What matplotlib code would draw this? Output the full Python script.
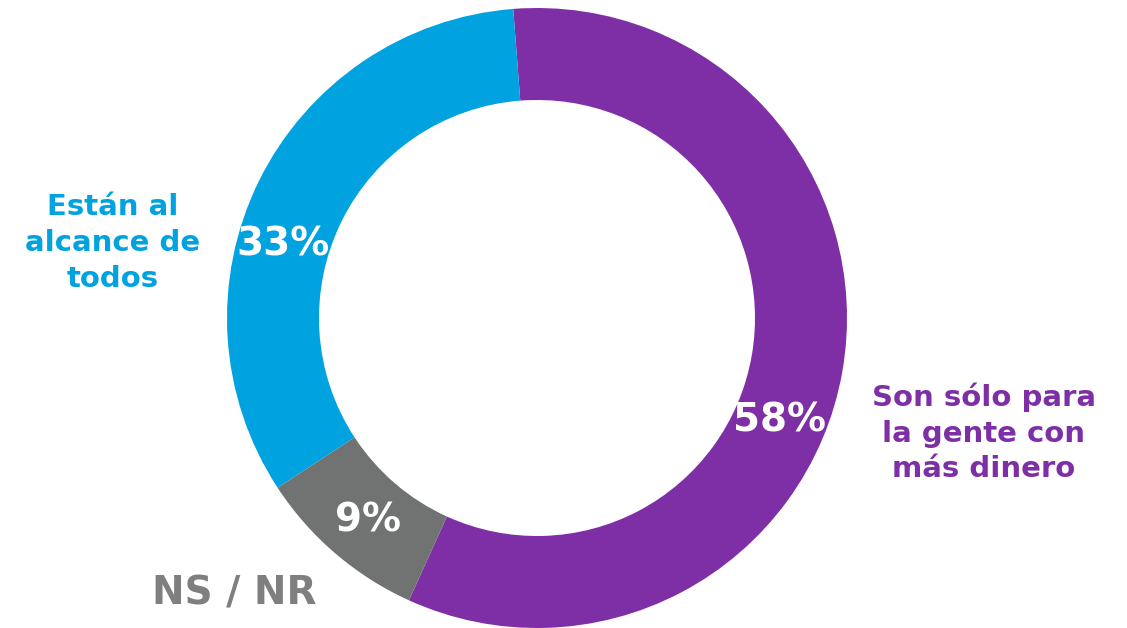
import matplotlib
matplotlib.use("Agg")
import matplotlib.pyplot as plt

# Data
categories = ["Son sólo para\nla gente con\nmás dinero", "NS / NR", "Están al\nalcance de\ntodos"]
values = [58, 9, 33]
pct_labels = ["58%", "9%", "33%"]
colors = ["#7F2FA5", "#707372", "#00A3E0"]
label_colors = ["#7F2FA5", "#7F7F7F", "#00A3E0"]

W, H = 1127, 628
CX, CY, R = 537, 310, 310
RING = 92

plt.rcParams['font.family'] = ['DejaVu Sans']


def draw_chart():
    '''Draw the donut chart and save it.'''
    fig = plt.figure(figsize=(W / 100, H / 100), dpi=100)
    ax = fig.add_axes([0, 0, 1, 1])

    ax.pie(values, colors=colors, startangle=94.4, counterclock=False,
           radius=R, center=(CX, CY),
           wedgeprops=dict(width=RING, linewidth=0))

    # pie resets limits, so set them afterwards
    ax.set_xlim(0, W)
    ax.set_ylim(0, H)
    ax.set_aspect('equal')
    ax.axis('off')

    # percentage labels inside the ring
    pct_pos = [(780, H - 420), (368, H - 521), (283, H - 245)]
    for (x, y), txt in zip(pct_pos, pct_labels):
        ax.text(x, y, txt, color="white", fontsize=28, fontweight='bold',
                ha='center', va='center')

    # category labels
    ax.text(984, H - 433, categories[0], color=label_colors[0], fontsize=21,
            fontweight='bold', ha='center', va='center', linespacing=1.35)
    ax.text(234, H - 593, categories[1], color=label_colors[1], fontsize=28,
            fontweight='bold', ha='center', va='center')
    ax.text(113, H - 243, categories[2], color=label_colors[2], fontsize=21,
            fontweight='bold', ha='center', va='center', linespacing=1.35)

    fig.savefig("out.png", dpi=100)


if __name__ == "__main__":
    draw_chart()
